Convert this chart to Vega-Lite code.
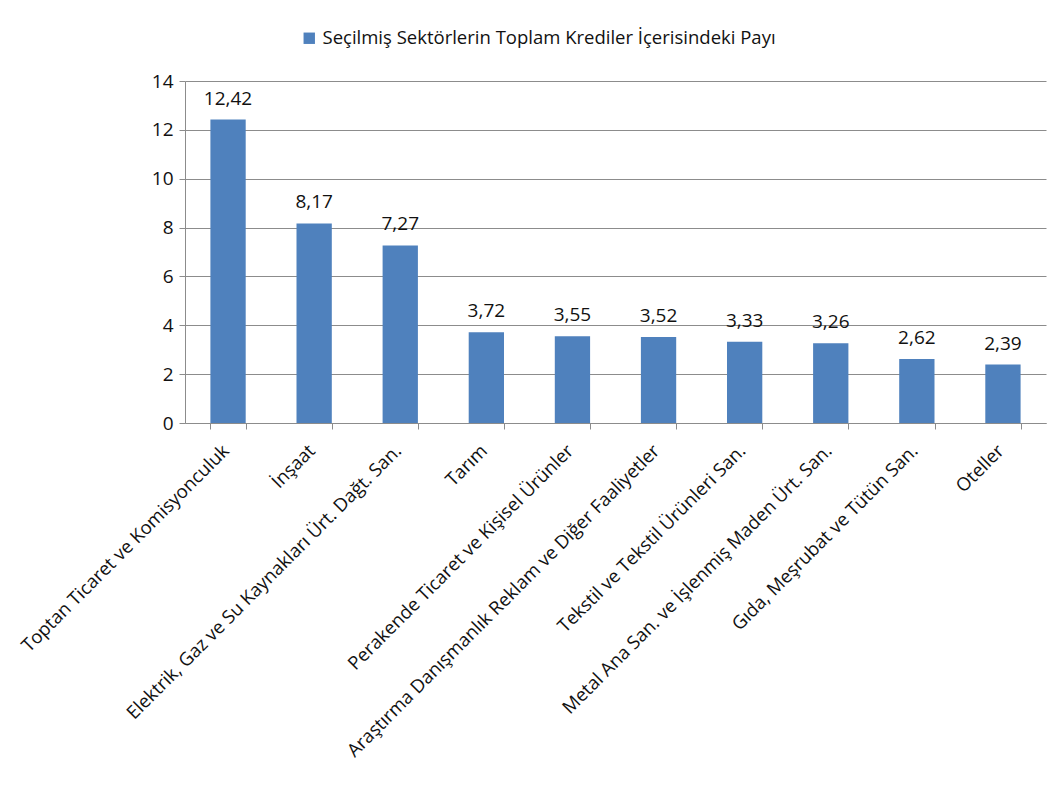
{
  "$schema": "https://vega.github.io/schema/vega-lite/v6.json",
  "width": 861,
  "height": 342,
  "autosize": {"type": "none"},
  "padding": {"left": 185, "top": 81, "right": 15, "bottom": 364},
  "background": "white",
  "config": {
    "font": "Open Sans",
    "view": {"stroke": null},
    "locale": {
      "number": {"decimal": ",", "thousands": ".", "grouping": [3], "currency": ["", " TL"]}
    }
  },
  "data": {
    "values": [
      {"sektor": "Toptan Ticaret ve Komisyonculuk", "pay": 12.42},
      {"sektor": "İnşaat", "pay": 8.17},
      {"sektor": "Elektrik, Gaz ve Su Kaynakları Ürt. Dağt. San.", "pay": 7.27},
      {"sektor": "Tarım", "pay": 3.72},
      {"sektor": "Perakende Ticaret ve Kişisel Ürünler", "pay": 3.55},
      {"sektor": "Araştırma Danışmanlık Reklam ve Diğer Faaliyetler", "pay": 3.52},
      {"sektor": "Tekstil ve Tekstil Ürünleri San.", "pay": 3.33},
      {"sektor": "Metal Ana San. ve İşlenmiş Maden Ürt. San.", "pay": 3.26},
      {"sektor": "Gıda, Meşrubat ve Tütün San.", "pay": 2.62},
      {"sektor": "Oteller", "pay": 2.39}
    ]
  },
  "encoding": {
    "x": {
      "field": "sektor",
      "type": "nominal",
      "sort": null,
      "title": null,
      "scale": {"paddingInner": 0.59, "paddingOuter": 0.295},
      "axis": {
        "labelAngle": -45,
        "labelFontSize": 18.5,
        "labelColor": "#111111",
        "labelPadding": 12,
        "labelLimit": 500,
        "labelOffset": -9,
        "tickBand": "extent",
        "tickColor": "#8c8c8c",
        "tickSize": 6,
        "domainColor": "#8c8c8c",
        "grid": false
      }
    },
    "y": {
      "field": "pay",
      "type": "quantitative",
      "title": null,
      "scale": {"domain": [0, 14], "nice": false},
      "axis": {
        "values": [0, 2, 4, 6, 8, 10, 12, 14],
        "format": "d",
        "labelFontSize": 19,
        "labelColor": "#111111",
        "labelPadding": 6,
        "tickColor": "#8c8c8c",
        "tickSize": 6,
        "domainColor": "#8c8c8c",
        "gridColor": "#8c8c8c",
        "gridOpacity": 1
      }
    }
  },
  "layer": [
    {
      "mark": {"type": "bar"},
      "encoding": {
        "color": {
          "datum": "Seçilmiş Sektörlerin Toplam Krediler İçerisindeki Payı",
          "type": "nominal",
          "scale": {"range": ["#4F81BD"]},
          "legend": {
            "title": null,
            "orient": "none",
            "legendX": 115,
            "legendY": -52,
            "symbolType": "square",
            "symbolSize": 130,
            "symbolStrokeWidth": 0,
            "labelFontSize": 18.5,
            "labelColor": "#111111",
            "labelLimit": 700
          }
        }
      }
    },
    {
      "mark": {"type": "text", "baseline": "bottom", "dy": -11, "fontSize": 19, "color": "#111111"},
      "encoding": {
        "text": {"field": "pay", "type": "quantitative", "format": ".2f"}
      }
    }
  ]
}
